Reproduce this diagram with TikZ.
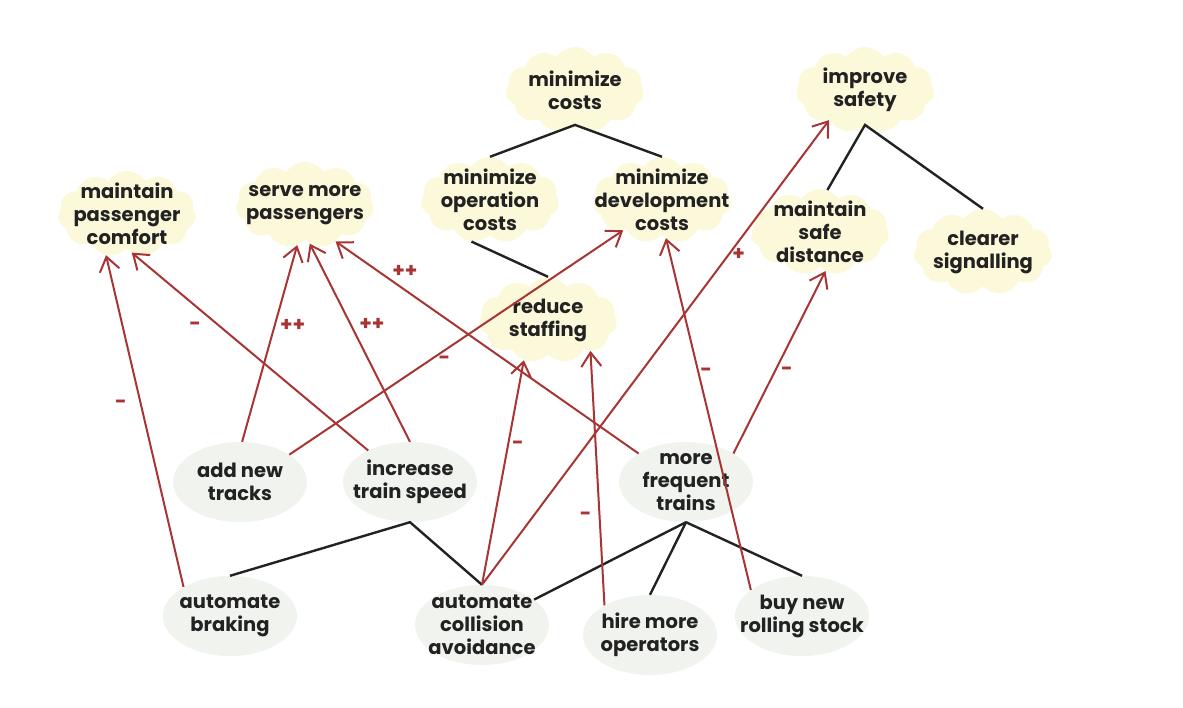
\documentclass[tikz,border=0pt]{standalone}
\usepackage{fontspec}
\setmainfont{Poppins}
\usetikzlibrary{arrows.meta, shapes.symbols, shapes.geometric}
\definecolor{cloudfill}{HTML}{FCF9DB}
\definecolor{taskfill}{HTML}{F1F4EE}
\definecolor{linkred}{HTML}{A83434}
\definecolor{inkgray}{HTML}{222222}
\tikzset{
    goal/.style={cloud, cloud puffs=11, cloud puff arc=110, cloud ignores aspect, fill=cloudfill, text=inkgray,
        minimum width=138pt, minimum height=86pt, inner xsep=-30pt, inner ysep=-20pt, align=center}, % soft goal
    task/.style={ellipse, fill=taskfill, text=inkgray, minimum width=134pt, minimum height=80pt,
        inner xsep=-25pt, inner ysep=-10pt, align=center}, % task
    decomp/.style={inkgray, line width=2.4pt}, % decomposition link
    contrib/.style={linkred, line width=2pt, -{Straight Barb[length=14pt, width=20pt, line width=2pt]}}, % contribution
    sign/.style={linkred, font=\bfseries\fontsize{20}{20}\selectfont, inner sep=0pt}
}

\begin{document}
\begin{tikzpicture}[x=1pt, y=-1pt, font=\bfseries\fontsize{19.5}{23}\selectfont]
    \useasboundingbox (0,0) rectangle (1183,708);

    % soft goals
    \node[goal] (mincost)  at (575,90)  {minimize\\costs};
    \node[goal] (opcost)   at (490,200) {minimize\\operation\\costs};
    \node[goal] (devcost)  at (662,200) {minimize\\development\\costs};
    \node[goal] (safety)   at (865,90)  {improve\\safety};
    \node[goal] (comfort)  at (127,214) {maintain\\passenger\\comfort};
    \node[goal] (serve)    at (305,205) {serve more\\passengers};
    \node[goal] (staff)    at (548,320) {reduce\\staffing};
    \node[goal] (safedist) at (820,232) {maintain\\safe\\distance};
    \node[goal] (signal)   at (983,252) {clearer\\signalling};

    % tasks
    \node[task] (tracks)    at (240,482) {add new\\tracks};
    \node[task] (speed)     at (410,482) {increase\\train speed};
    \node[task] (freq)      at (686,482) {more\\frequent\\trains};
    \node[task] (braking)   at (230,616) {automate\\braking};
    \node[task] (collision) at (482,625) {automate\\collision\\avoidance};
    \node[task] (hire)      at (650,635) {hire more\\operators};
    \node[task] (rolling)   at (802,616) {buy new\\rolling stock};

    % decompositions
    \draw[decomp] (opcost.north) -- (mincost.south) -- (devcost.north);
    \draw[decomp] (opcost.246) -- (staff.north);
    \draw[decomp] (safedist.80) -- (safety.south) -- (signal.north);
    \draw[decomp] (braking.north) -- (speed.south) -- (collision.north);
    \draw[decomp] (collision.26) -- (freq.south);
    \foreach \t in {hire, rolling} {\draw[decomp] (freq.south) -- (\t.north);}

    % contributions
    \draw[contrib] (braking.148) -- node[sign, pos=.55, xshift=-20pt] {-} (comfort.243);
    \draw[contrib] (speed.143) -- node[sign, pos=.63, xshift=-24pt] {-} (comfort.277);
    \draw[contrib] (tracks.87) -- node[sign, pos=.59, xshift=18pt] {++} (serve.259);
    \draw[contrib] (speed.north) -- node[sign, pos=.59, xshift=21pt] {++} (serve.277);
    \draw[contrib] (freq.149) -- node[sign, pos=.86, xshift=27pt] {++} (serve.310);
    \draw[contrib] (tracks.29) -- node[sign, pos=.42, xshift=15pt] {-} (devcost.218);
    \draw[contrib] (collision.north) -- node[sign, pos=.62, xshift=10pt] {-} (staff.239);
    \draw[contrib] (collision.north) -- node[sign, pos=.71, xshift=10pt] {+} (safety.220);
    \draw[contrib] (hire.147) -- node[sign, pos=.35, xshift=-14pt] {-} (staff.324);
    \draw[contrib] (rolling.153) -- node[sign, pos=.62, xshift=8pt] {-} (devcost.276);
    \draw[contrib] (freq.31) -- node[sign, pos=.45, xshift=12pt] {-} (safedist.278);
\end{tikzpicture}
\end{document}
